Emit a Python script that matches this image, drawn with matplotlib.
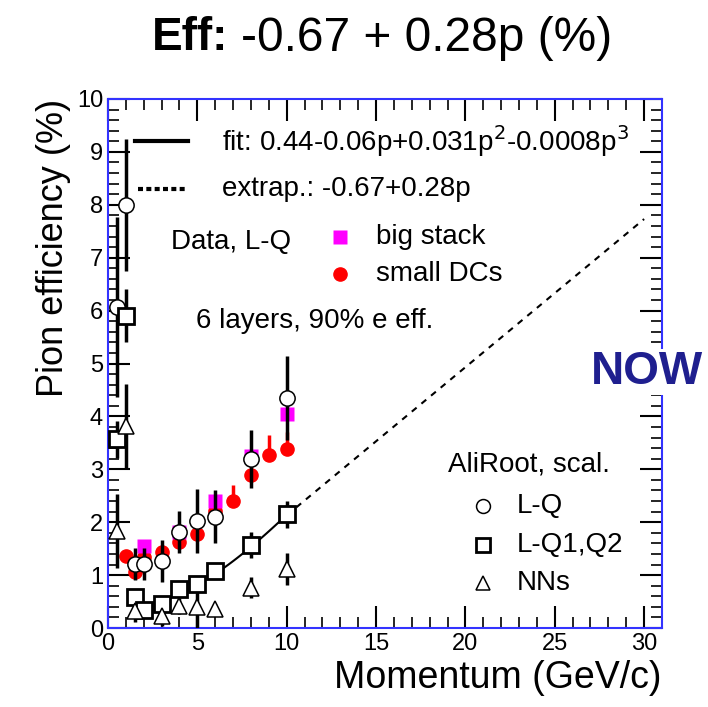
import numpy as np
import matplotlib
matplotlib.use('Agg')
from matplotlib import pyplot as plt
from matplotlib.ticker import MultipleLocator

plt.rcParams['font.family'] = ['Liberation Sans', 'DejaVu Sans']

# Data, L-Q : big stack (magenta squares)
big_p = [2, 4, 6, 8, 10]
big_eff = [1.55, 1.81, 2.40, 3.25, 4.05]

# Data, L-Q : small DCs (red dots), upward error
dc_p = [1, 1.5, 2, 3, 4, 5, 6, 7, 8, 9, 10]
dc_eff = [1.36, 1.06, 1.34, 1.43, 1.62, 1.78, 2.21, 2.40, 2.89, 3.27, 3.38]
dc_err = [0.0, 0.0, 0.0, 0.0, 0.0, 0.0, 0.25, 0.30, 0.0, 0.38, 0.32]

# AliRoot, scal. : L-Q (open circles)
lq_p = [0.5, 1, 1.5, 2, 3, 4, 5, 6, 8, 10]
lq_eff = [6.07, 8.0, 1.21, 1.21, 1.27, 1.81, 2.02, 2.10, 3.19, 4.35]
lq_err = [1.7, 1.25, 0.3, 0.3, 0.4, 0.4, 0.6, 0.5, 0.55, 0.8]

# AliRoot, scal. : L-Q1,Q2 (open squares)
lq12_p = [0.5, 1, 1.5, 2, 3, 4, 5, 6, 8, 10]
lq12_eff = [3.57, 5.90, 0.59, 0.34, 0.45, 0.74, 0.84, 1.08, 1.57, 2.15]
lq12_err = [0.35, 0.5, 0.15, 0.15, 0.1, 0.1, 0.1, 0.1, 0.25, 0.25]

# AliRoot, scal. : NNs (open triangles)
nn_p = [0.5, 1, 1.5, 3, 4, 5, 6, 8, 10]
nn_eff = [1.83, 3.82, 0.32, 0.23, 0.42, 0.40, 0.36, 0.76, 1.12]
nn_err = [0.7, 0.8, 0.2, 0.2, 0.15, 0.4, 0.1, 0.2, 0.3]

fit_coef = [0.44, -0.06, 0.031, -0.0008]   # fit: 0.44-0.06p+0.031p^2-0.0008p^3
extrap_coef = [-0.67, 0.28]                # extrap.: -0.67+0.28p

fig = plt.figure(figsize=(7.08, 7.07), dpi=100)
ax = fig.add_axes([0.1525, 0.1117, 0.7825, 0.7483])

pf = np.linspace(2, 10, 50)
ax.plot(pf, np.polynomial.polynomial.polyval(pf, fit_coef), color='black', lw=1.5, zorder=2)
pe = np.array([10, 30])
ax.plot(pe, np.polynomial.polynomial.polyval(pe, extrap_coef), color='black', lw=1.5,
        ls=(0, (3, 3)), zorder=2)

ax.errorbar(dc_p, dc_eff, yerr=[np.zeros(len(dc_err)), dc_err], fmt='o', color='red',
            ms=9.5, elinewidth=2.5, capsize=0, zorder=3)
ax.plot(big_p, big_eff, 's', color='magenta', ms=10, mec='none', zorder=4)

ax.errorbar(lq_p, lq_eff, yerr=lq_err, fmt='o', color='black', mfc='white', mec='black',
            ms=11, mew=1.1, elinewidth=2.5, capsize=0, zorder=5)
ax.errorbar(lq12_p, lq12_eff, yerr=lq12_err, fmt='s', color='black', mfc='white', mec='black',
            ms=11.5, mew=2, elinewidth=2.5, capsize=0, zorder=5)
ax.errorbar(nn_p, nn_eff, yerr=nn_err, fmt='^', color='black', mfc='white', mec='black',
            ms=11, mew=1.1, elinewidth=2.5, capsize=0, zorder=5)

ax.set_xlim(0, 31)
ax.set_ylim(0, 10)
ax.xaxis.set_major_locator(MultipleLocator(5))
ax.xaxis.set_minor_locator(MultipleLocator(1))
ax.yaxis.set_major_locator(MultipleLocator(1))
ax.yaxis.set_minor_locator(MultipleLocator(0.2))
ax.tick_params(which='both', direction='in', top=True, right=True, labelsize=17, color='black')
ax.tick_params(which='major', length=16, width=1.5)
ax.tick_params(which='minor', length=8, width=1.2)
for s in ax.spines.values():
    s.set_color('#3333ff')
    s.set_linewidth(1.5)

ax.set_xlabel('Momentum (GeV/c)', fontsize=27, loc='right')
ax.set_ylabel('Pion efficiency (%)', fontsize=26, loc='top')

# legend-like annotations
ax.plot([1.5, 4.5], [9.2, 9.2], color='black', lw=3)
ax.text(6.4, 9.2, 'fit: 0.44-0.06p+0.031p$^2$-0.0008p$^3$', fontsize=20, va='center')
ax.plot([1.7, 4.5], [8.3, 8.3], color='black', lw=3, ls=(0, (1.2, 0.8)))
ax.text(6.4, 8.3, 'extrap.: -0.67+0.28p', fontsize=20, va='center')
ax.text(3.5, 7.3, 'Data, L-Q', fontsize=20, va='center')
ax.plot([13.0], [7.4], 's', color='magenta', ms=10, mec='none')
ax.text(15.0, 7.4, 'big stack', fontsize=20, va='center')
ax.plot([13.0], [6.7], 'o', color='red', ms=9.5)
ax.text(15.0, 6.7, 'small DCs', fontsize=20, va='center')
ax.text(4.9, 5.8, '6 layers, 90% e eff.', fontsize=20, va='center')
ax.text(19.0, 3.1, 'AliRoot, scal.', fontsize=20, va='center')
ax.plot([21.0], [2.3], 'o', color='black', mfc='white', ms=10, mew=1.1)
ax.text(22.9, 2.3, 'L-Q', fontsize=20, va='center')
ax.plot([21.0], [1.57], 's', color='black', mfc='white', ms=10, mew=2)
ax.text(22.9, 1.57, 'L-Q1,Q2', fontsize=20, va='center')
ax.plot([21.0], [0.85], '^', color='black', mfc='white', ms=10, mew=1.1)
ax.text(22.9, 0.85, 'NNs', fontsize=20, va='center')

fig.text(0.835, 0.474, 'NOW', fontsize=33, fontweight='bold', color='#1f1f8f', va='center',
         bbox=dict(facecolor='white', edgecolor='none', pad=1))

# title: bold "Eff:" followed by normal text
t1 = fig.text(0.215, 0.946, 'Eff:', fontsize=33, fontweight='bold', va='center')
fig.canvas.draw()
bb = t1.get_window_extent()
x2 = (bb.x1 + 12) / fig.bbox.width
fig.text(x2, 0.946, '-0.67 + 0.28p (%)', fontsize=34.5, va='center')

plt.savefig('out.png', dpi=100)
